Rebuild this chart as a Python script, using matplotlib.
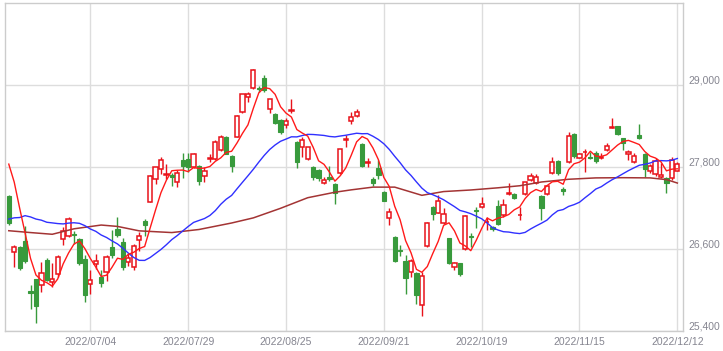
import matplotlib
matplotlib.use("Agg")
import matplotlib.pyplot as plt
import numpy as np
import pandas as pd

# daily bars 2022/06/13 - 2022/12/12 (TSE business days)
holidays = ["2022-07-18", "2022-08-11", "2022-09-19", "2022-09-23",
            "2022-10-10", "2022-11-03", "2022-11-23"]
dates = pd.bdate_range("2022-06-13", "2022-12-12", freq="C", holidays=holidays)

opens = [27380, 26556, 26629, 26721, 25985, 26160, 26073, 26443, 26126, 26234,
         26746, 26795, 26824, 26746, 26458, 26087, 26380, 26195, 26272, 26629,
         26892, 26711, 26410, 26345, 26731, 27014, 27297, 27624, 27770, 27690,
         27682, 27580, 27907, 27921, 27809, 27819, 27668, 27920, 27916, 28053,
         28243, 27965, 28248, 28614, 28829, 28955, 28965, 29111, 28653, 28580,
         28492, 28419, 28630, 28170, 28092, 27921, 27809, 27760, 27565, 27658,
         27555, 27722, 28200, 28483, 28551, 28141, 27860, 27629, 27785, 27444,
         27053, 26785, 26590, 26429, 26273, 26248, 25785, 26648, 27219, 27136,
         26980, 26761, 26346, 26395, 26600, 26800, 27170, 27224, 27000, 26920,
         27234, 27102, 27410, 27405, 27100, 27405, 27615, 27566, 27380, 27405,
         27712, 27897, 27480, 27873, 28287, 27941, 28020, 27956, 28004, 27940,
         28053, 28370, 28404, 28224, 27990, 27883, 28273, 27990, 27751, 27697,
         27663, 27638, 27638, 27751]
highs = [27400, 26663, 26650, 26941, 26077, 26160, 26419, 26468, 26395, 26510,
         26931, 27077, 26868, 26760, 26516, 26297, 26531, 26297, 26521, 26882,
         27068, 26760, 26540, 26680, 26858, 27038, 27690, 27810, 27946, 27843,
         27711, 27760, 28014, 28004, 28010, 27833, 27809, 27995, 28200, 28277,
         28260, 27980, 28560, 28880, 28906, 29240, 28990, 29150, 28800, 28600,
         28500, 28516, 28794, 28180, 28238, 28100, 27820, 27780, 27660, 27819,
         27570, 28070, 28270, 28615, 28660, 28150, 27941, 27660, 27907, 27450,
         27200, 26790, 26665, 26517, 26454, 26273, 26273, 27000, 27230, 27400,
         27200, 26770, 26420, 26400, 27102, 26834, 27225, 27370, 27078, 26941,
         27322, 27332, 27576, 27429, 27224, 27590, 27712, 27700, 27390, 27530,
         27956, 27905, 27517, 28320, 28300, 28015, 28063, 28029, 28043, 28004,
         28160, 28517, 28410, 28230, 28050, 28004, 28434, 28004, 27843, 27941,
         27858, 27660, 27956, 27880]
lows = [26957, 26346, 26300, 26400, 25721, 25520, 25970, 26130, 26053, 26200,
        26658, 26775, 26677, 26370, 25834, 25946, 26307, 26053, 26136, 26480,
        26780, 26300, 26350, 26300, 26580, 26794, 27290, 27550, 27702, 27624,
        27526, 27506, 27638, 27736, 27790, 27541, 27590, 27877, 27900, 28040,
        27990, 27736, 28240, 28600, 28760, 28940, 28900, 28900, 28590, 28430,
        28290, 28370, 28599, 27785, 27946, 27900, 27620, 27600, 27550, 27600,
        27270, 27700, 28102, 28440, 28540, 27800, 27809, 27530, 27625, 27300,
        26955, 26410, 26495, 25946, 26200, 25800, 25621, 26640, 27030, 27130,
        26970, 26380, 26300, 26210, 26590, 26639, 26907, 27200, 26883, 26873,
        26960, 27078, 27400, 27330, 27029, 27390, 27600, 27550, 27029, 27395,
        27700, 27690, 27395, 27860, 27940, 27930, 27736, 27920, 27858, 27917,
        28040, 28370, 28270, 28053, 27907, 27870, 28215, 27663, 27712, 27680,
        27650, 27429, 27620, 27740]
closes = [26987, 26629, 26326, 26431, 25963, 25771, 26246, 26149, 26171, 26491,
          26871, 27049, 26804, 26393, 25935, 26153, 26423, 26107, 26490, 26517,
          26812, 26336, 26478, 26643, 26788, 26961, 27680, 27803, 27914, 27699,
          27655, 27715, 27815, 27801, 27993, 27594, 27741, 27932, 28175, 28249,
          27999, 27819, 28546, 28871, 28868, 29222, 28942, 28930, 28794, 28452,
          28313, 28479, 28641, 27878, 28195, 28091, 27661, 27650, 27619, 27626,
          27430, 28065, 28214, 28542, 28614, 27818, 27875, 27567, 27688, 27313,
          27153, 26431, 26571, 26173, 26422, 25937, 26215, 26992, 27120, 27311,
          27116, 26401, 26397, 26237, 27090, 26775, 27156, 27257, 27006, 26890,
          26974, 27250, 27431, 27345, 27105, 27587, 27678, 27663, 27199, 27527,
          27872, 27716, 27446, 28263, 27963, 27990, 28028, 27930, 27899, 27944,
          28115, 28383, 28283, 28162, 28027, 27968, 28226, 27777, 27820, 27885,
          27686, 27574, 27901, 27842]
# closes before the first bar, needed by the moving averages
prior_closes = [26167, 26213, 25748, 26427, 26547, 26659, 26911, 26402, 26739, 27001,
                26748, 26677, 26604, 26781, 27369, 27279, 27457, 27413, 27761, 27915,
                27943, 28234, 28246, 27824]
# 75-day average (bar index, value)
ma75_idx = [0, 4, 8, 12, 17, 20, 24, 30, 35, 41, 45, 50, 55, 60, 63, 67, 71, 76,
            80, 85, 90, 94, 98, 103, 108, 113, 118, 121, 123]
ma75_val = [26872, 26845, 26820, 26900, 26955, 26935, 26870, 26845, 26890, 26985,
            27060, 27200, 27355, 27435, 27470, 27510, 27510, 27390, 27445, 27468,
            27500, 27530, 27585, 27625, 27645, 27648, 27645, 27620, 27570]

tick_dates = ["2022/07/04", "2022/07/29", "2022/08/25", "2022/09/21",
              "2022/10/19", "2022/11/15", "2022/12/12"]
y_ticks = [25400, 26600, 27800, 29000]

o = np.array(opens); h = np.array(highs); l = np.array(lows); c = np.array(closes)
x = np.arange(len(c))
allc = pd.Series(prior_closes + closes)
n0 = len(prior_closes)
ma5 = allc.rolling(5).mean().to_numpy()[n0:]
ma25 = allc.rolling(25).mean().to_numpy()[n0:]

RED = "#e8121a"
GREEN = "#389a3c"
GRID = "#dddddd"
TXT = "#858590"

fig = plt.figure(figsize=(7.23, 3.51), dpi=100)
ax = fig.add_axes([0.0065, 0.0561, 0.9386, 0.9345])

# candles: hollow red = up day, filled green = down day
up = c >= o
cols = np.where(up, RED, GREEN)
ax.vlines(x, l, h, colors=cols, linewidth=1, zorder=2)
body_h = np.maximum(np.abs(c - o), 1)
ax.bar(x[up], body_h[up], bottom=np.minimum(o, c)[up], width=0.78,
       facecolor="white", edgecolor=RED, linewidth=1.1, zorder=3)
ax.bar(x[~up], body_h[~up], bottom=np.minimum(o, c)[~up], width=0.78,
       facecolor=GREEN, edgecolor=GREEN, linewidth=0.8, zorder=3)

# moving averages
ax.plot(ma75_idx, ma75_val, color="#a33434", linewidth=1.1, zorder=4)
ax.plot(x, ma25, color="#3030ff", linewidth=1, zorder=4)
ax.plot(x, ma5, color="#ff1a1a", linewidth=1, zorder=5)

ax.set_xlim(-0.75, len(c) + 0.1)
ax.set_ylim(25400, 30200)

date_str = [d.strftime("%Y/%m/%d") for d in dates]
ax.set_xticks([date_str.index(d) for d in tick_dates])
ax.set_xticklabels(tick_dates)
ax.set_yticks(y_ticks)
ax.set_yticklabels([f"{v:,}" for v in y_ticks])
ax.yaxis.tick_right()
ax.tick_params(length=0, labelsize=7.5, colors=TXT, pad=4)
for t in ax.get_yticklabels():
    t.set_verticalalignment("bottom")
for t in ax.get_xticklabels() + ax.get_yticklabels():
    t.set_fontfamily("Liberation Sans")
ax.grid(True, color=GRID, linewidth=1, zorder=0)
ax.set_axisbelow(True)
for s in ax.spines.values():
    s.set_color("#cccccc")
    s.set_linewidth(1)

fig.savefig("out.png", dpi=100, facecolor="white")
